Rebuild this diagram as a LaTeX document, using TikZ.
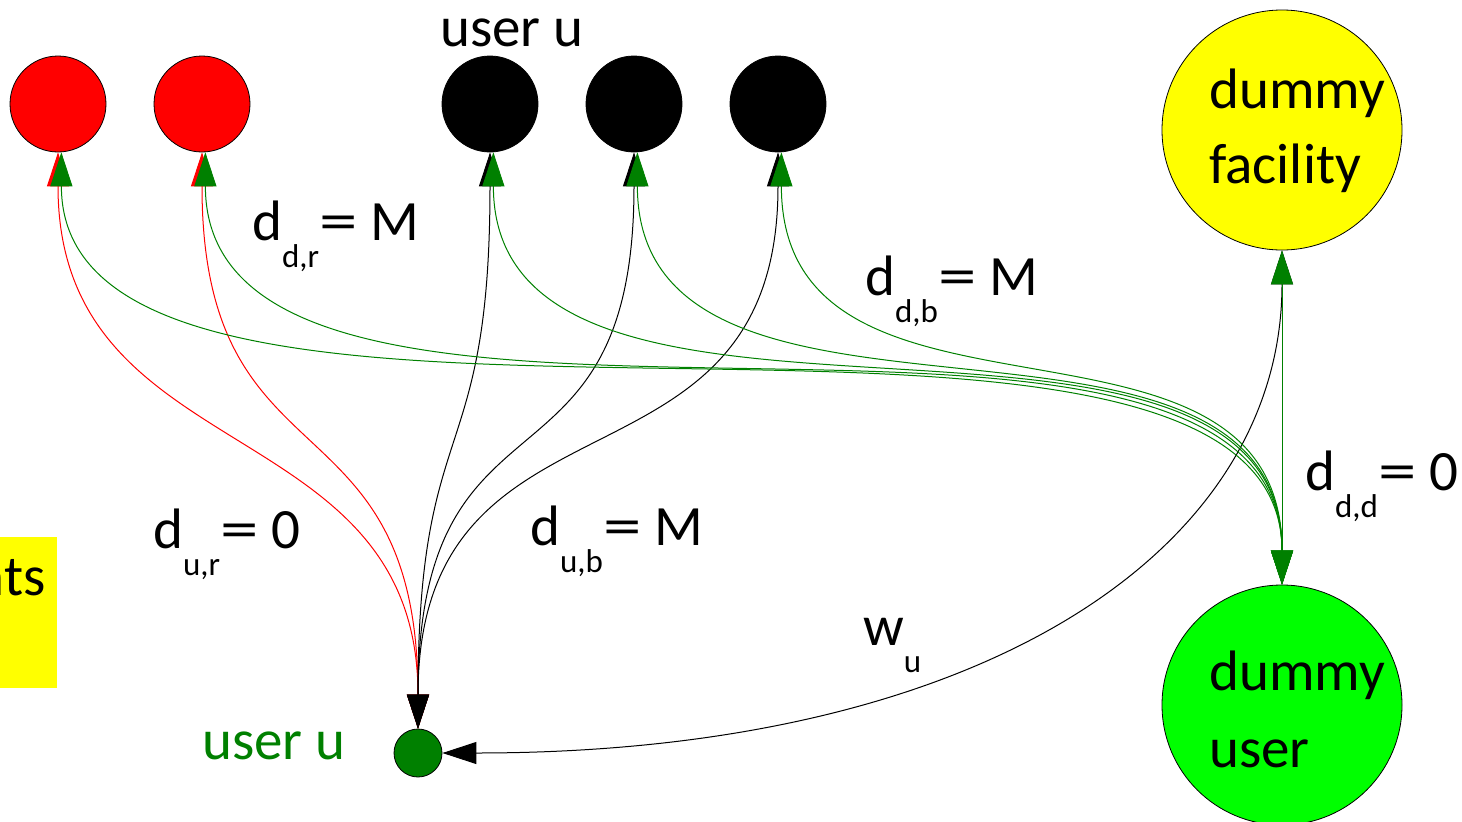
\documentclass[tikz,border=0pt]{standalone}
\usepackage{fontspec}
\setmainfont{Carlito}
\usetikzlibrary{arrows.meta}
\definecolor{dkgreen}{RGB}{0,128,0}
\definecolor{ltgreen}{RGB}{0,255,0}
\definecolor{ylw}{RGB}{255,255,0}
\newcommand\bigtxt{\fontsize{57}{68}\selectfont}
\newcommand\subtxt{\fontsize{33}{38}\selectfont}
\newcommand\wideeq{\scalebox{1.35}[1]{=}}
% main symbol, lowered subscript, rest of the label
\newcommand\sublbl[3]{#1\raisebox{-27pt}{\subtxt #2}#3}

\begin{document}
\begin{tikzpicture}[x=1pt,y=-1pt,
  vertex/.style={circle,draw=black,line width=0.8pt,inner sep=0pt,minimum size=96pt},
  bigvertex/.style={circle,draw=black,line width=0.8pt,inner sep=0pt,minimum size=240pt},
  txt/.style={inner sep=0pt,anchor=base west,font=\bigtxt},
  link/.style={line width=1pt,{Triangle[length=34pt,width=22pt]}-{Triangle[length=34pt,width=22pt]}},
]
\useasboundingbox (0,0) rectangle (1462,822);
\clip (0,0) rectangle (1462,822);

% facilities and users
\node[vertex,fill=red] (r1) at (58,104) {};
\node[vertex,fill=red] (r2) at (202,104) {};
\node[vertex,fill=black] (b1) at (490,104) {};
\node[vertex,fill=black] (b2) at (634,104) {};
\node[vertex,fill=black] (b3) at (778,104) {};
\node[bigvertex,fill=ylw] (df) at (1282,130) {};
\node[bigvertex,fill=ltgreen] (du) at (1282,705) {};
\node[circle,draw=black,line width=0.8pt,fill=dkgreen,minimum size=48pt,inner sep=0pt] (u) at (418,753) {};

% side note box
\node[fill=ylw,anchor=north east,minimum width=200pt,minimum height=151pt,inner sep=0pt] (note) at (57,537) {};
\node[txt,anchor=base east] (notetxt) at (46,595) {nts};

% user u to red facilities
\draw[link,red] (u.north) .. controls +(0,-320) and +(0,320) .. (r1.south);
\draw[link,red] (u.north) .. controls +(0,-340) and +(0,340) .. (r2.south);
% user u to black facilities
\draw[link,black] (u.north) .. controls +(0,-320) and +(0,320) .. (b1.south);
\draw[link,black] (u.north) .. controls +(0,-360) and +(0,360) .. (b2.south);
\draw[link,black] (u.north) .. controls +(0,-360) and +(0,360) .. (b3.south);
% dummy facility to user u
\draw[link,black] (df.south) .. controls +(0,300) and +(540,0) .. (u.east);
% dummy user to every facility
\draw[link,dkgreen] (du.north) .. controls +(0,-380) and +(0,380) .. (r1.-86);
\draw[link,dkgreen] (du.north) .. controls +(0,-380) and +(0,380) .. (r2.-86);
\draw[link,dkgreen] (du.north) .. controls +(0,-350) and +(0,350) .. (b1.-86);
\draw[link,dkgreen] (du.north) .. controls +(0,-330) and +(0,330) .. (b2.-86);
\draw[link,dkgreen] (du.north) .. controls +(0,-310) and +(0,310) .. (b3.-86);
\draw[link,dkgreen] (du.north) -- (df.south);

% texts
\node[txt] (toplbl) at (440,46) {user u};
\node[txt,text=dkgreen] (ulbl) at (202,759) {user u};
\node[txt] (df1) at (1209,108) {dummy};
\node[txt] (df2) at (1209,183) {facility};
\node[txt] (du1) at (1209,690) {dummy};
\node[txt] (du2) at (1209,767) {user};
\node[txt] (ldr) at (252,240) {\sublbl{d}{d,r}{\wideeq\ M}};
\node[txt] (ldb) at (865,295) {\sublbl{d}{d,b}{\wideeq\ M}};
\node[txt] (lur) at (153,548) {\sublbl{d}{u,r}{\wideeq\ 0}};
\node[txt] (lub) at (530,545) {\sublbl{d}{u,b}{\wideeq\ M}};
\node[txt] (ldd) at (1305,490) {\sublbl{d}{d,d}{\wideeq\ 0}};
\node[txt] (lw) at (863,645) {\sublbl{w}{u}{}};
\end{tikzpicture}
\end{document}
